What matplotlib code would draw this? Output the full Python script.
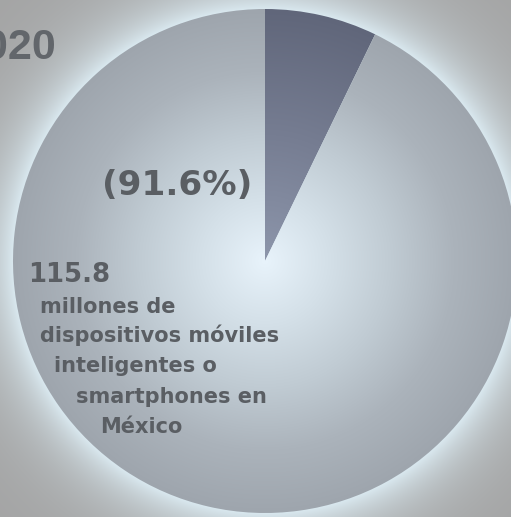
import numpy as np
import matplotlib
matplotlib.use('Agg')
import matplotlib.pyplot as plt
from matplotlib.colors import to_rgb

# ---- data ----
slice_labels = ['Otros', 'Smartphones']
slice_shares = [7.2, 92.8]
pct_label = '(91.6%)'
value_label = '115.8'
desc_lines = ['millones de', 'dispositivos móviles', 'inteligentes o',
              'smartphones en', 'México']
year_label = '2020'

W, H = 511, 517
fig = plt.figure(figsize=(W / 100, H / 100), dpi=100)
ax = fig.add_axes([0, 0, 1, 1])

cx, cy, R = 265, H - 261, 252

yy, xx = np.mgrid[0:H, 0:W]
px = xx + 0.5
py = H - (yy + 0.5)
d = np.hypot(px - cx, py - cy)


def ramp(t, stops):
    ts = [s[0] for s in stops]
    cols = np.array([to_rgb(s[1]) for s in stops])
    return np.stack([np.interp(t, ts, cols[:, k]) for k in range(3)], axis=-1)


# background: gray with glow halo around pie
glow = np.array(to_rgb('#d9e8ef'))
gray = np.array(to_rgb('#a3a3a3'))
t = 1 - np.exp(-np.clip(d - R, 0, None) / 34.0)
bg = glow[None, None, :] * (1 - t[..., None]) + gray[None, None, :] * t[..., None]
ax.imshow(bg, extent=(0, W, 0, H), origin='upper', zorder=0, interpolation='bilinear')

wedges, _ = ax.pie(slice_shares, startangle=90, counterclock=False,
                   center=(cx, cy), radius=R, colors=['none', 'none'],
                   wedgeprops=dict(linewidth=0))

tr = np.clip(d / R, 0, 1)
grad_big = ramp(tr, [(0, '#e8f3fb'), (0.25, '#d4e0e8'), (0.5, '#c0cbd3'),
                     (0.75, '#abb3bb'), (1.0, '#9ea5ad')])
grad_dark = ramp(tr, [(0, '#8d96ab'), (0.5, '#767d92'), (1.0, '#60667a')])

for w, g in zip(wedges, [grad_dark, grad_big]):
    im = ax.imshow(g, extent=(0, W, 0, H), origin='upper', zorder=1,
                   interpolation='bilinear')
    im.set_clip_path(w)

tc = '#5a5e63'


def Y(ypx):
    return H - ypx


ax.text(56, Y(59), year_label, ha='right', va='baseline', color='#62666b',
        fontsize=31, fontweight='bold', family='Liberation Sans', zorder=5)
ax.text(177.5, Y(195), pct_label, ha='center', va='baseline', color=tc,
        fontsize=24.7, fontweight='bold', family='DejaVu Sans', zorder=5)
ax.text(28, Y(282), value_label, ha='left', va='baseline', color=tc,
        fontsize=18.7, fontweight='bold', family='DejaVu Sans', zorder=5)

line_x = [39.5, 39.5, 54.5, 76.5, 100.5]
line_y = [313, 342, 372, 403, 433]
for s, x, y in zip(desc_lines, line_x, line_y):
    ax.text(x, Y(y), s, ha='left', va='baseline', color=tc, fontsize=15,
            fontweight='bold', family='DejaVu Sans', zorder=5)

ax.set_xlim(0, W)
ax.set_ylim(0, H)
ax.set_aspect('auto')
ax.axis('off')
fig.savefig('out.png', dpi=100)
